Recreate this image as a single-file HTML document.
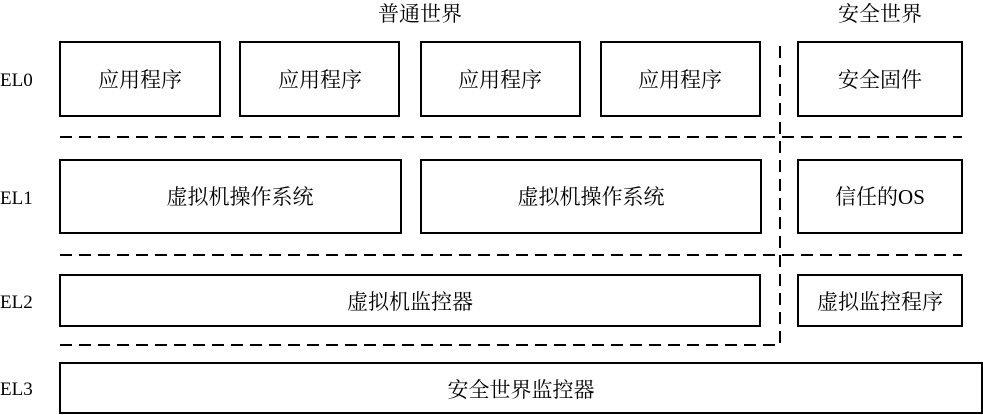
<!DOCTYPE html>
<html><head><meta charset="utf-8"><style>
body{margin:0;background:#fff;}
.t{font-family:"Liberation Serif","Noto Serif CJK SC",serif;font-size:21px;}
.e{font-family:"Liberation Serif",serif;font-size:19px;}
</style></head><body>
<svg width="983" height="415" xmlns="http://www.w3.org/2000/svg" style="display:block">
<g class="t" fill="#000" text-anchor="middle">
<text x="420" y="21">普通世界</text>
<text x="880" y="21">安全世界</text>
</g>
<g class="e" fill="#000">
<text x="0" y="86">EL0</text>
<text x="0" y="204">EL1</text>
<text x="0" y="308">EL2</text>
<text x="0" y="395">EL3</text>
</g>
<g fill="none" stroke="#000" stroke-width="2">
<rect x="60" y="42" width="160" height="74"/>
<rect x="240" y="42" width="159" height="74"/>
<rect x="421" y="42" width="159" height="74"/>
<rect x="601" y="42" width="159" height="74"/>
<rect x="798" y="42" width="164" height="74"/>
<rect x="60" y="160" width="341" height="73"/>
<rect x="421" y="160" width="340" height="73"/>
<rect x="798" y="160" width="164" height="73"/>
<rect x="60" y="275" width="700" height="51"/>
<rect x="798" y="275" width="164" height="51"/>
<rect x="60" y="363" width="922" height="50"/>
</g>
<g fill="none" stroke="#000" stroke-width="2" stroke-dasharray="12,7">
<line x1="60" y1="137" x2="962" y2="137"/>
<line x1="60" y1="255" x2="962" y2="255"/>
<polyline points="60,345 780,345 780,40"/>
</g>
<g class="t" fill="#000" text-anchor="middle">
<text x="140" y="87">应用程序</text>
<text x="320" y="87">应用程序</text>
<text x="500" y="87">应用程序</text>
<text x="680" y="87">应用程序</text>
<text x="880" y="87">安全固件</text>
<text x="240" y="204">虚拟机操作系统</text>
<text x="591" y="204">虚拟机操作系统</text>
<text x="880" y="204">信任的OS</text>
<text x="410" y="309">虚拟机监控器</text>
<text x="880" y="309">虚拟监控程序</text>
<text x="521" y="397">安全世界监控器</text>
</g>
</svg>
</body></html>
